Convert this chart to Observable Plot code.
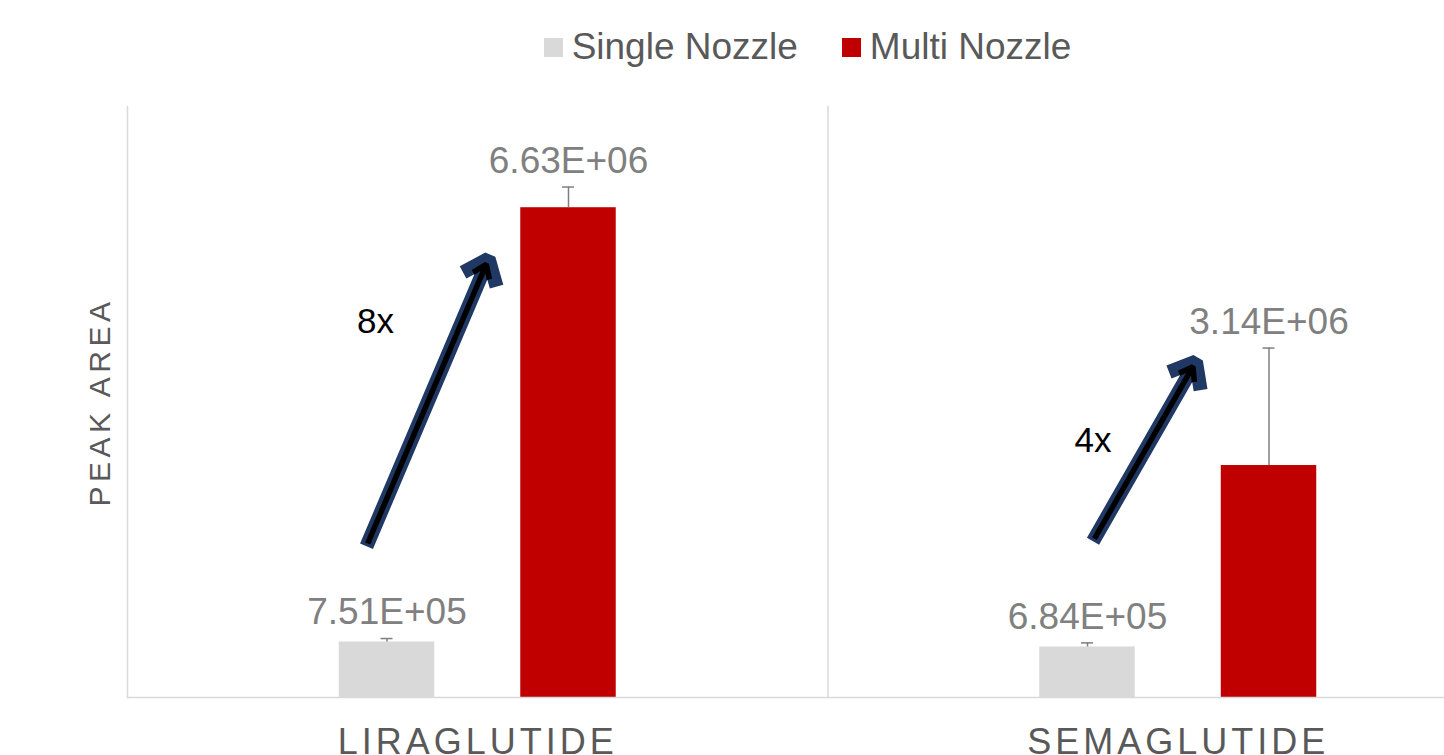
<!DOCTYPE html>
<html><head><meta charset="utf-8">
<script src="https://cdn.jsdelivr.net/npm/d3@7"></script>
<script src="https://cdn.jsdelivr.net/npm/@observablehq/plot@0.6"></script>
<style>
html,body{margin:0;padding:0;background:#fff;overflow:hidden;width:1444px;height:755px}
#legend{width:1615px;height:94px;display:flex;align-items:center;justify-content:center;font-family:"Liberation Sans",Arial,sans-serif;font-size:37px;color:#595959}
.item{display:flex;align-items:center}
.item + .item{margin-left:44px}
.sw{width:19px;height:19px;margin-right:9px}
#chart svg{display:block}
</style></head><body>
<div id="legend"></div><div id="chart"></div>
<script>
// ---- data ----
const compounds = ["LIRAGLUTIDE", "SEMAGLUTIDE"];
const series = ["Single Nozzle", "Multi Nozzle"];
const seriesColors = ["#d9d9d9", "#c00000"];
const singleValues = [751000, 684000];
const multiValues = [6630000, 3140000];
const singleErrors = [47000, 55000];
const multiErrors = [280000, 1590000];
const yAxisTitle = "PEAK AREA";
const yDomain = [0, 8000000];
const foldLabels = ["8x", "4x"];
const foldLabelY = [5080000, 3480000];
const arrowTailY = [2047000, 2115000];
const arrowAimY = [7833000, 6404000];

// ---- tables built from arrays ----
const rows = compounds.flatMap((c, i) => [
  {compound: c, series: series[0], value: singleValues[i], err: singleErrors[i]},
  {compound: c, series: series[1], value: multiValues[i], err: multiErrors[i]}
]);
const annotations = compounds.map((c, i) => ({
  compound: c, label: foldLabels[i], labelY: foldLabelY[i], tail: arrowTailY[i], aim: arrowAimY[i]
}));

// annotation styling (offsets in px)
const annotationStyle = {
  LIRAGLUTIDE: {arrowDx: -20.5, insetEnd: 152, labelDx: -11.5},
  SEMAGLUTIDE: {arrowDx: 5.5, insetEnd: 158, labelDx: 5.5}
};

const fmt = v => {
  const [m, e] = v.toExponential(2).split("e");
  const n = +e;
  return m + "E" + (n < 0 ? "-" : "+") + String(Math.abs(n)).padStart(2, "0");
};

// ---- legend ----
const legend = document.getElementById("legend");
series.forEach((s, i) => {
  const item = document.createElement("div");
  item.className = "item";
  const sw = document.createElement("span");
  sw.className = "sw";
  sw.style.background = seriesColors[i];
  const t = document.createElement("span");
  t.textContent = s;
  item.appendChild(sw); item.appendChild(t);
  legend.appendChild(item);
});

const font = "'Liberation Sans', Arial, sans-serif";

const annotationMarks = compounds.flatMap(c => {
  const a = annotations.filter(d => d.compound === c);
  const s = annotationStyle[c];
  return [
    Plot.arrow(a, {fx: "compound", x1: () => series[0], x2: () => series[1], y1: "tail", y2: "aim",
      dx: s.arrowDx, insetEnd: s.insetEnd, stroke: "#1f3864", strokeWidth: 14,
      headLength: 3.1, headAngle: 78, strokeLinejoin: "miter", strokeLinecap: "butt"}),
    Plot.arrow(a, {fx: "compound", x1: () => series[0], x2: () => series[1], y1: "tail", y2: "aim",
      dx: s.arrowDx, insetStart: 3, insetEnd: s.insetEnd + 6, stroke: "#000", strokeWidth: 5.5,
      headLength: 4.2, headAngle: 70, strokeLinejoin: "miter", strokeLinecap: "butt"}),
    Plot.text(a, {fx: "compound", x: () => series[0], y: "labelY", text: "label",
      dx: s.labelDx, fontSize: 35, fill: "#000"})
  ];
});

const chart = Plot.plot({
  width: 1444,
  height: 673,
  marginTop: 12,
  marginBottom: 70,
  marginLeft: 127,
  marginRight: -84,
  style: {fontFamily: font, background: "white"},
  fx: {domain: compounds, padding: 0, round: false, axis: null},
  x: {domain: series, paddingInner: 0.474, paddingOuter: 1.1667, round: false, axis: null},
  y: {domain: yDomain, axis: null},
  color: {domain: series, range: seriesColors},
  marks: [
    Plot.frame({anchor: "left", stroke: "#d9d9d9", strokeWidth: 1.5}),
    Plot.barY(rows, {fx: "compound", x: "series", y: "value", fill: "series"}),
    Plot.ruleY([0], {stroke: "#d9d9d9", strokeWidth: 1.5}),
    Plot.ruleX(rows, {fx: "compound", x: "series", y1: "value", y2: d => d.value + d.err, stroke: "#7f7f7f", strokeWidth: 1.5}),
    Plot.tickY(rows, {fx: "compound", x: "series", y: d => d.value + d.err, insetLeft: 41.75, insetRight: 41.75, stroke: "#7f7f7f", strokeWidth: 1.5}),
    Plot.text(rows, {fx: "compound", x: "series", y: d => d.value + d.err, text: d => fmt(d.value),
      dy: -26, fontSize: 37, fill: "#808080"}),
    ...annotationMarks,
    Plot.text([yAxisTitle], {fx: () => compounds[0], text: d => d, frameAnchor: "left", textAnchor: "middle",
      rotate: -90, dx: -27, fontSize: 30, fill: "#595959"}),
    Plot.axisFx({anchor: "bottom", tickSize: 0, tickPadding: 31, fontSize: 36, color: "#595959", label: null})
  ]
});
chart.querySelectorAll("text").forEach(t => {
  const s = t.textContent;
  if (compounds.includes(s)) t.style.letterSpacing = "4px";
  if (s === yAxisTitle) t.style.letterSpacing = "4.5px";
});
document.getElementById("chart").appendChild(chart);
</script>
</body></html>
